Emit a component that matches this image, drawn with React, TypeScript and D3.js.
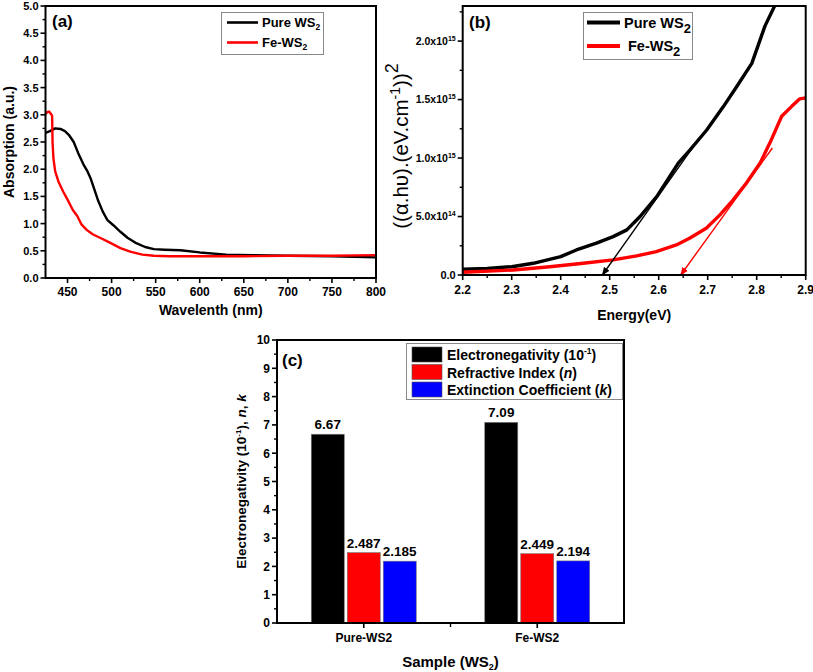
import React from "react";
import * as d3 from "d3";

// ---------- Panel (a): absorption spectra ----------
const pureAbsWl = [425, 430, 436, 442, 447, 452, 457, 462, 468, 472, 476, 481, 485, 490, 495, 502, 510, 518, 528, 538, 548, 560, 578, 600, 630, 660, 700, 750, 800];
const pureAbsVal = [2.67, 2.7, 2.75, 2.74, 2.7, 2.62, 2.5, 2.3, 2.09, 1.98, 1.84, 1.6, 1.41, 1.22, 1.07, 0.97, 0.85, 0.74, 0.64, 0.57, 0.53, 0.52, 0.51, 0.47, 0.43, 0.42, 0.41, 0.4, 0.38];
const feAbsWl = [425, 427, 429, 431, 432.5, 433, 434, 436, 440, 445, 450, 456, 461, 466, 472, 479, 488, 498, 510, 522, 535, 548, 565, 600, 650, 700, 750, 800];
const feAbsVal = [3.01, 3.05, 3.06, 3.02, 2.98, 2.5, 2.2, 1.96, 1.76, 1.59, 1.44, 1.25, 1.14, 0.98, 0.88, 0.8, 0.73, 0.65, 0.55, 0.48, 0.43, 0.41, 0.4, 0.4, 0.4, 0.41, 0.41, 0.42];
const absXTicks = [450, 500, 550, 600, 650, 700, 750, 800];
const absYTicks = [0, 0.5, 1, 1.5, 2, 2.5, 3, 3.5, 4, 4.5, 5];

// ---------- Panel (b): Tauc plot (values in 1e15) ----------
const pureEnergy = [2.2, 2.25, 2.3, 2.344, 2.4, 2.432, 2.473, 2.507, 2.535, 2.562, 2.596, 2.64, 2.664, 2.698, 2.732, 2.759, 2.79, 2.817, 2.84];
const pureTauc = [0.049, 0.055, 0.071, 0.1, 0.157, 0.214, 0.272, 0.328, 0.386, 0.5, 0.67, 0.957, 1.07, 1.24, 1.44, 1.61, 1.81, 2.13, 2.33];
const feEnergy = [2.2, 2.303, 2.378, 2.446, 2.507, 2.555, 2.595, 2.636, 2.663, 2.697, 2.725, 2.752, 2.779, 2.807, 2.827, 2.851, 2.871, 2.888, 2.9];
const feTauc = [0.023, 0.043, 0.071, 0.1, 0.129, 0.163, 0.2, 0.257, 0.314, 0.4, 0.514, 0.643, 0.786, 0.957, 1.13, 1.357, 1.44, 1.506, 1.515];
const pureTangentE = [2.671, 2.485];
const pureTangentT = [1.1, 0];
const feTangentE = [2.832, 2.645];
const feTangentT = [1.086, 0];
const taucXTicks = [2.2, 2.3, 2.4, 2.5, 2.6, 2.7, 2.8, 2.9];
const taucYTicks = [0, 0.5, 1.0, 1.5, 2.0];

// ---------- Panel (c): bars ----------
const samples = ["Pure-WS2", "Fe-WS2"];
const seriesKeys = ["en", "n", "k"];
const electronegativity = [6.67, 7.09];
const refractiveIndex = [2.487, 2.449];
const extinction = [2.185, 2.194];
const barYTicks = [0, 1, 2, 3, 4, 5, 6, 7, 8, 9, 10];

const FONT = "'Liberation Sans', Arial, Helvetica, sans-serif";
const seriesColors = ["#000000", "#ff0000", "#0000ff"];

function range(a: number, b: number, s: number) {
  const out: number[] = [];
  for (let v = a; v <= b + 1e-9; v += s) out.push(+v.toFixed(6));
  return out;
}

function PanelA() {
  const L = 45.5, R = 376, T = 6, B = 278;
  const x = d3.scaleLinear().domain([425, 800]).range([L, R]);
  const y = d3.scaleLinear().domain([0, 5]).range([B, T]);
  const line = d3.line<[number, number]>().x((d) => x(d[0])).y((d) => y(d[1]));
  const pure = pureAbsWl.map((w, i) => [w, pureAbsVal[i]] as [number, number]);
  const fe = feAbsWl.map((w, i) => [w, feAbsVal[i]] as [number, number]);
  const minorY = range(0.25, 4.75, 0.5);
  const minorX = range(475, 775, 50);
  return (
    <g fontFamily={FONT} fontWeight="bold">
      <path d={line(pure) || ""} fill="none" stroke="#000" strokeWidth={2.4} strokeLinejoin="round" />
      <path d={line(fe) || ""} fill="none" stroke="#ff0000" strokeWidth={2.4} strokeLinejoin="round" />
      <rect x={L} y={T} width={R - L} height={B - T} fill="none" stroke="#000" strokeWidth={2} />
      {absYTicks.map((t) => (
        <g key={"ya" + t}>
          <line x1={L - 5} x2={L} y1={y(t)} y2={y(t)} stroke="#000" strokeWidth={1.6} />
          <text x={L - 7} y={y(t)} dy="0.36em" textAnchor="end" fontSize={11}>{t.toFixed(1)}</text>
        </g>
      ))}
      {minorY.map((t) => (
        <line key={"yma" + t} x1={L - 3} x2={L} y1={y(t)} y2={y(t)} stroke="#000" strokeWidth={1.4} />
      ))}
      {absXTicks.map((t) => (
        <g key={"xa" + t}>
          <line x1={x(t)} x2={x(t)} y1={B} y2={B + 5} stroke="#000" strokeWidth={1.6} />
          <text x={x(t)} y={B + 18} textAnchor="middle" fontSize={12}>{t}</text>
        </g>
      ))}
      {minorX.map((t) => (
        <line key={"xma" + t} x1={x(t)} x2={x(t)} y1={B} y2={B + 3} stroke="#000" strokeWidth={1.4} />
      ))}
      <text x={(L + R) / 2} y={B + 37} textAnchor="middle" fontSize={14}>Wavelenth (nm)</text>
      <text transform={`translate(14,${(T + B) / 2}) rotate(-90)`} textAnchor="middle" fontSize={14}>Absorption (a.u.)</text>
      <text x={52} y={27} fontSize={17}>(a)</text>
      {/* legend */}
      <rect x={221.5} y={12.5} width={102} height={42} fill="#fff" stroke="#888" strokeWidth={1} />
      <line x1={227} x2={258} y1={22.5} y2={22.5} stroke="#000" strokeWidth={2.6} />
      <line x1={227} x2={258} y1={42.5} y2={42.5} stroke="#ff0000" strokeWidth={2.6} />
      <text x={262} y={27} fontSize={13}>Pure WS<tspan fontSize={8.5} dy={3}>2</tspan></text>
      <text x={262} y={47} fontSize={13}>Fe-WS<tspan fontSize={8.5} dy={3}>2</tspan></text>
    </g>
  );
}

function PanelB() {
  const L = 462.7, R = 805.7, T = 6, B = 275;
  const x = d3.scaleLinear().domain([2.2, 2.9]).range([L, R]);
  const y = d3.scaleLinear().domain([0, 2.3]).range([B, T]);
  const line = d3.line<[number, number]>().x((d) => x(d[0])).y((d) => y(d[1]));
  const pure = pureEnergy.map((e, i) => [e, pureTauc[i]] as [number, number]);
  const fe = feEnergy.map((e, i) => [e, feTauc[i]] as [number, number]);
  const pt = pureTangentE.map((e, i) => [e, pureTangentT[i]] as [number, number]);
  const ft = feTangentE.map((e, i) => [e, feTangentT[i]] as [number, number]);
  const minorY = range(0.25, 2.25, 0.5);
  const minorX = range(2.25, 2.85, 0.1);
  const exps: Record<string, string> = { "0.5": "14", "1": "15", "1.5": "15", "2": "15" };
  const mant: Record<string, string> = { "0.5": "5.0", "1": "1.0", "1.5": "1.5", "2": "2.0" };
  return (
    <g fontFamily={FONT} fontWeight="bold">
      <defs>
        <clipPath id="clipB">
          <rect x={L} y={T} width={R - L} height={B - T} />
        </clipPath>
        <marker id="arrBlack" viewBox="0 0 10 10" refX="9" refY="5" markerWidth="6" markerHeight="6" orient="auto">
          <path d="M0,1 L10,5 L0,9 z" fill="#000" />
        </marker>
        <marker id="arrRed" viewBox="0 0 10 10" refX="9" refY="5" markerWidth="6" markerHeight="6" orient="auto">
          <path d="M0,1 L10,5 L0,9 z" fill="#ff0000" />
        </marker>
      </defs>
      <g clipPath="url(#clipB)">
        <path d={line(pure) || ""} fill="none" stroke="#000" strokeWidth={3.4} strokeLinejoin="round" />
        <path d={line(fe) || ""} fill="none" stroke="#ff0000" strokeWidth={3.4} strokeLinejoin="round" />
      </g>
      <path d={line(pt) || ""} fill="none" stroke="#000" strokeWidth={1.4} markerEnd="url(#arrBlack)" />
      <path d={line(ft) || ""} fill="none" stroke="#ff0000" strokeWidth={1.4} markerEnd="url(#arrRed)" />
      <rect x={L} y={T} width={R - L} height={B - T} fill="none" stroke="#000" strokeWidth={2} />
      {taucYTicks.map((t) => (
        <g key={"yb" + t}>
          <line x1={L - 5} x2={L} y1={y(t)} y2={y(t)} stroke="#000" strokeWidth={1.6} />
          {t === 0 ? (
            <text x={L - 7} y={y(t)} dy="0.36em" textAnchor="end" fontSize={11}>0.0</text>
          ) : (
            <text x={L - 7} y={y(t)} dy="0.36em" textAnchor="end" fontSize={10.5}>
              {mant[String(t)]}x10<tspan fontSize={7} dy={-4}>{exps[String(t)]}</tspan>
            </text>
          )}
        </g>
      ))}
      {minorY.map((t) => (
        <line key={"ymb" + t} x1={L - 3} x2={L} y1={y(t)} y2={y(t)} stroke="#000" strokeWidth={1.4} />
      ))}
      {taucXTicks.map((t) => (
        <g key={"xb" + t}>
          <line x1={x(t)} x2={x(t)} y1={B} y2={B + 5} stroke="#000" strokeWidth={1.6} />
          <text x={x(t)} y={B + 19} textAnchor="middle" fontSize={12}>{t.toFixed(1)}</text>
        </g>
      ))}
      {minorX.map((t) => (
        <line key={"xmb" + t} x1={x(t)} x2={x(t)} y1={B} y2={B + 3} stroke="#000" strokeWidth={1.4} />
      ))}
      <text x={(L + R) / 2} y={B + 45} textAnchor="middle" fontSize={14}>Energy(eV)</text>
      <text transform={`translate(408,146) rotate(-90)`} textAnchor="middle" fontSize={20.5} fontWeight="normal">
        ((α.hυ).(eV.cm<tspan fontSize={14} dy={-8}>-1</tspan><tspan dy={8}>))</tspan><tspan fontSize={18} dy={-10}>2</tspan>
      </text>
      <text x={469} y={28} fontSize={17}>(b)</text>
      {/* legend */}
      <rect x={583.5} y={12.5} width={109} height={47} fill="#fff" stroke="#888" strokeWidth={1} />
      <line x1={587} x2={620} y1={22.5} y2={22.5} stroke="#000" strokeWidth={4} />
      <line x1={587} x2={620} y1={46} y2={46} stroke="#ff0000" strokeWidth={4} />
      <text x={624} y={28} fontSize={14.5}>Pure WS<tspan fontSize={13} dy={5}>2</tspan></text>
      <text x={628} y={51} fontSize={14.5}>Fe-WS<tspan fontSize={13} dy={5}>2</tspan></text>
    </g>
  );
}

function PanelC() {
  const L = 277, R = 624, T = 340, B = 623;
  const x0 = d3.scaleBand().domain(samples).range([L, R]).paddingInner(0.395).paddingOuter(0.1975);
  const x1 = d3.scaleBand().domain(seriesKeys).range([0, x0.bandwidth()]).paddingInner(0.0833).paddingOuter(0);
  const y = d3.scaleLinear().domain([0, 10]).range([B, T]);
  const values = [electronegativity, refractiveIndex, extinction];
  const minorY = range(0.5, 9.5, 1);
  const midTick = (x0(samples[0]) as number) + x0.bandwidth() / 2 + x0.step() / 2;
  return (
    <g fontFamily={FONT} fontWeight="bold">
      {samples.map((s, si) => (
        <g key={s} transform={`translate(${x0(s)},0)`}>
          {seriesKeys.map((k, ki) => {
            const v = values[ki][si];
            const bx = x1(k) as number;
            return (
              <g key={k}>
                <rect x={bx} y={y(v)} width={x1.bandwidth()} height={B - y(v)} fill={seriesColors[ki]} stroke="#777" strokeWidth={0.6} />
                <text x={bx + x1.bandwidth() / 2} y={y(v) - 5} textAnchor="middle" fontSize={13.5}>{String(v)}</text>
              </g>
            );
          })}
        </g>
      ))}
      <rect x={L} y={T} width={R - L} height={B - T} fill="none" stroke="#000" strokeWidth={2} />
      {barYTicks.map((t) => (
        <g key={"yc" + t}>
          <line x1={L - 5} x2={L} y1={y(t)} y2={y(t)} stroke="#000" strokeWidth={1.6} />
          <text x={L - 7} y={y(t)} dy="0.36em" textAnchor="end" fontSize={12}>{t}</text>
        </g>
      ))}
      {minorY.map((t) => (
        <line key={"ymc" + t} x1={L - 3} x2={L} y1={y(t)} y2={y(t)} stroke="#000" strokeWidth={1.4} />
      ))}
      {samples.map((s) => {
        const cx = (x0(s) as number) + x0.bandwidth() / 2;
        return (
          <g key={"xc" + s}>
            <line x1={cx} x2={cx} y1={B} y2={B + 5} stroke="#000" strokeWidth={1.6} />
            <text x={cx} y={B + 19} textAnchor="middle" fontSize={12}>{s}</text>
          </g>
        );
      })}
      <line x1={midTick} x2={midTick} y1={B} y2={B + 4} stroke="#000" strokeWidth={1.4} />
      <text x={(L + R) / 2} y={B + 44} textAnchor="middle" fontSize={15}>Sample (WS<tspan fontSize={9} dy={3}>2</tspan><tspan dy={-3}>)</tspan></text>
      <text transform={`translate(246,${(T + B) / 2}) rotate(-90)`} textAnchor="middle" fontSize={13.5}>
        Electronegativity (10<tspan fontSize={8} dy={-5}>-1</tspan><tspan dy={5}>), </tspan><tspan fontStyle="italic">n</tspan>, <tspan fontStyle="italic">k</tspan>
      </text>
      <text x={282} y={366} fontSize={17}>(c)</text>
      {/* legend */}
      <rect x={406.5} y={343.5} width={216} height={56} fill="#fff" stroke="#888" strokeWidth={1} />
      {seriesKeys.map((k, i) => (
        <rect key={"lg" + k} x={412} y={347 + i * 17.5} width={30} height={15} fill={seriesColors[i]} stroke="#555" strokeWidth={0.6} />
      ))}
      <text x={447} y={360} fontSize={14}>Electronegativity (10<tspan fontSize={8.5} dy={-6}>-1</tspan><tspan dy={6}>)</tspan></text>
      <text x={447} y={377.5} fontSize={14}>Refractive Index (<tspan fontStyle="italic">n</tspan>)</text>
      <text x={447} y={395} fontSize={14}>Extinction Coefficient (<tspan fontStyle="italic">k</tspan>)</text>
    </g>
  );
}

export default function App() {
  return (
    <svg width={813} height={672} viewBox="0 0 813 672" style={{ position: "absolute", left: 0, top: 0, background: "#fff" }}>
      <rect x={0} y={0} width={813} height={672} fill="#fff" />
      <PanelA />
      <PanelB />
      <PanelC />
    </svg>
  );
}
